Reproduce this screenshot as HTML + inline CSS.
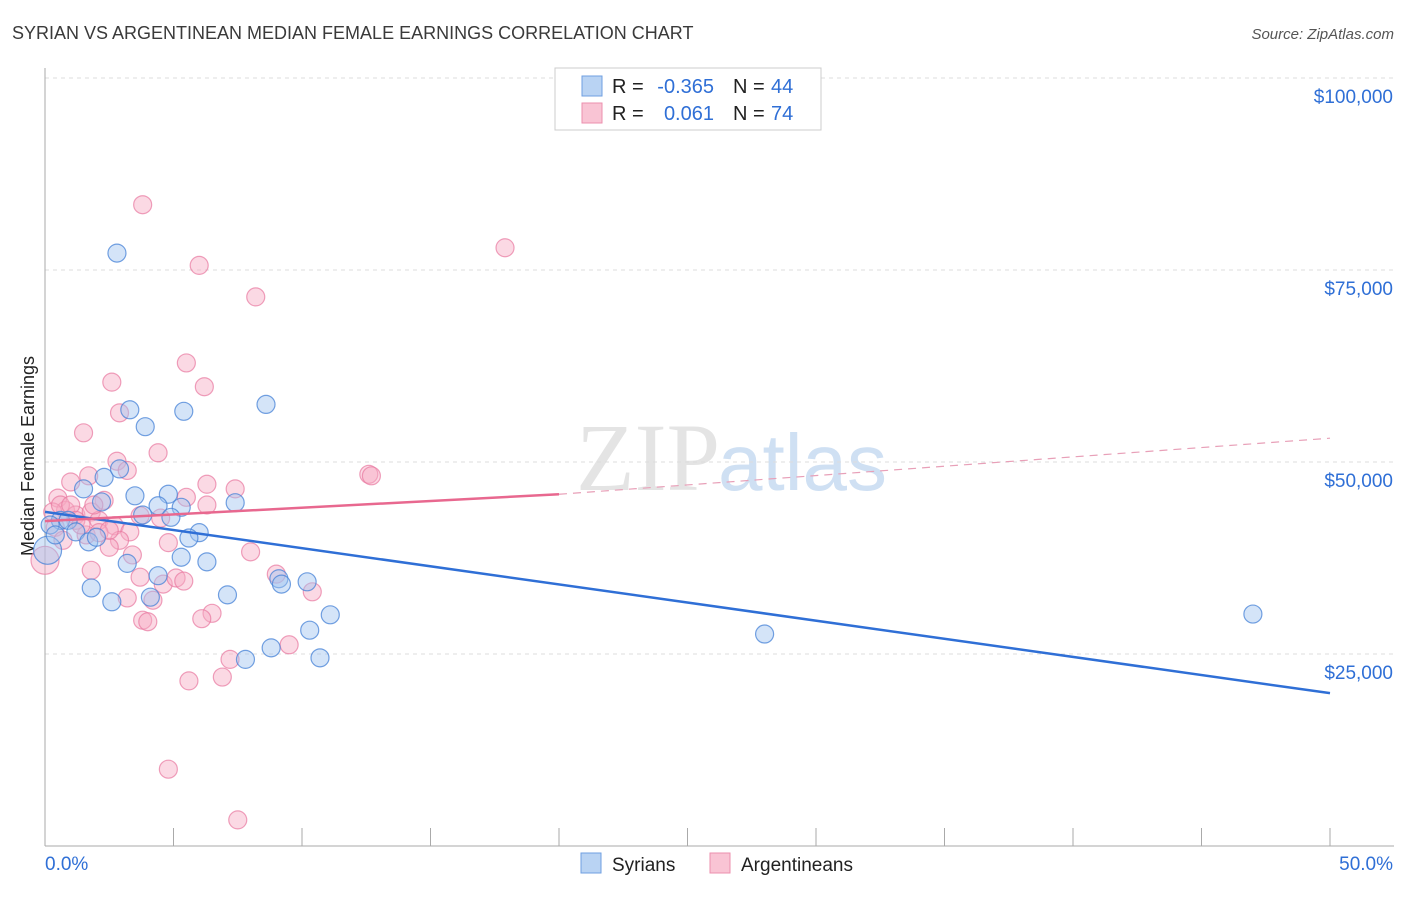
<!DOCTYPE html>
<html><head><meta charset="utf-8"><style>
body{margin:0;background:#fff;font-family:"Liberation Sans",sans-serif}
</style></head><body>
<svg id="c" width="1406" height="892" xmlns="http://www.w3.org/2000/svg">
<text x="12" y="39" font-size="18" fill="#3a3a3a">SYRIAN VS ARGENTINEAN MEDIAN FEMALE EARNINGS CORRELATION CHART</text>
<text x="1394" y="39" font-size="15" fill="#555" font-style="italic" text-anchor="end">Source: ZipAtlas.com</text>
<text x="720" y="490" font-size="96" fill="#e4e4e4" font-family="Liberation Serif" text-anchor="end">ZIP</text>
<text x="718" y="490" font-size="80" fill="#cfe0f3">atlas</text>
<text transform="translate(34,456) rotate(-90)" font-size="18" fill="#222" text-anchor="middle">Median Female Earnings</text>
<g id="grid"></g><g id="pts"></g><g id="lines"></g>
<g>
<rect x="555" y="68" width="266" height="62" fill="#fff" stroke="#ccc"/>
<rect x="582" y="76" width="20" height="20" fill="#b9d3f3" stroke="#6f9fe0"/>
<rect x="582" y="103" width="20" height="20" fill="#f9c4d4" stroke="#ec8fae"/>
<text x="612" y="93" font-size="20" fill="#222">R =</text>
<text x="714" y="93" font-size="20" fill="#2f6fd6" text-anchor="end">-0.365</text>
<text x="733" y="93" font-size="20" fill="#222">N =</text>
<text x="771" y="93" font-size="20" fill="#2f6fd6">44</text>
<text x="612" y="120" font-size="20" fill="#222">R =</text>
<text x="714" y="120" font-size="20" fill="#2f6fd6" text-anchor="end">0.061</text>
<text x="733" y="120" font-size="20" fill="#222">N =</text>
<text x="771" y="120" font-size="20" fill="#2f6fd6">74</text>
</g>
<g>
<rect x="581" y="853" width="20" height="20" fill="#b9d3f3" stroke="#6f9fe0"/>
<text x="612" y="871" font-size="19" fill="#222">Syrians</text>
<rect x="710" y="853" width="20" height="20" fill="#f9c4d4" stroke="#ec8fae"/>
<text x="741" y="871" font-size="19" fill="#222">Argentineans</text>
</g>
</svg>
<script>
const xTicks=[0,5,10,15,20,25,30,35,40,45,50];
const yTicks=[25000,50000,75000,100000];
const yLabels=["$25,000","$50,000","$75,000","$100,000"];
const syrX=[2.8,3.3,3.9,5.4,8.6,2.3,2.9,1.5,3.5,4.8,5.3,7.4,2.2,4.4,3.8,0.6,0.2,0.9,1.2,1.7,2.0,6.0,5.6,5.3,6.3,3.2,4.4,1.8,2.6,4.1,7.1,9.1,9.2,10.2,11.1,10.3,8.8,7.8,10.7,28.0,47.0,0.1,0.4,4.9];
const syrY=[77200,56800,54600,56600,57500,48000,49100,46500,45600,45800,44100,44700,44800,44300,43100,42400,41800,42400,40900,39600,40200,40800,40100,37600,37000,36800,35200,33600,31800,32400,32700,34800,34100,34400,30100,28100,25800,24300,24500,27600,30200,38500,40500,42800];
const argX=[3.8,17.9,6.0,8.2,5.5,2.6,6.2,2.9,1.5,4.4,2.8,3.2,12.6,12.7,1.7,1.0,6.3,7.4,5.5,2.3,0.5,6.3,0.8,0.3,1.2,1.8,4.5,2.1,2.7,0.4,3.3,1.6,2.1,2.9,2.5,4.8,3.4,8.0,1.8,3.7,4.6,5.1,5.4,9.0,3.2,4.2,6.5,6.1,3.8,4.0,10.4,9.5,7.2,6.9,5.6,4.8,7.5,0.0,0.6,1.0,1.2,0.7,1.4,2.5,1.9,3.7];
const argY=[83500,77900,75600,71500,62900,60400,59800,56400,53800,51200,50100,48900,48400,48200,48200,47400,47100,46500,45400,45000,45300,44400,43700,43500,43100,43500,42700,42400,41700,41500,40900,40500,40800,39800,38900,39500,37900,38300,35900,35000,34100,34900,34500,35400,32300,32000,30300,29600,29400,29200,33100,26200,24300,22000,21500,10000,3400,37200,44400,44400,42400,39800,41800,41100,44400,43000];
const syrTrend=[[0,43500],[50,19900]];
const argTrend=[[0,42300],[20,45800],[50,53100]];
const X=v=>45+v/50*1285, Y=v=>846-v/25000*192;
const NS="http://www.w3.org/2000/svg";
function mk(p,t,a){const e=document.createElementNS(NS,t);for(const k in a)e.setAttribute(k,a[k]);p.appendChild(e);return e;}
const g=document.getElementById('grid');
yTicks.forEach((v,i)=>{
 const l=mk(g,'line',{x1:45,x2:1394,y1:Y(v),y2:Y(v),stroke:'#ddd','stroke-dasharray':'4,4'});
 
 
 const t=mk(g,'text',{x:1393,y:Y(v)+25,'font-size':19,fill:'#2f6fd6','text-anchor':'end'});t.textContent=yLabels[i];
 
 
});
mk(g,'line',{x1:45,x2:45,y1:68,y2:846,stroke:'#aaa'});
mk(g,'line',{x1:45,x2:1394,y1:846,y2:846,stroke:'#aaa'});
xTicks.forEach(v=>{const l=mk(g,'line',{x1:X(v),x2:X(v),y1:828,y2:846,stroke:'#aaa'});
 
 });
const t0=mk(g,'text',{x:45,y:870,'font-size':19,fill:'#2f6fd6'});t0.textContent=xTicks[0].toFixed(1)+'%';


const t1=mk(g,'text',{x:1393,y:870,'font-size':19,fill:'#2f6fd6','text-anchor':'end'});t1.textContent=xTicks[10].toFixed(1)+'%';


const p=document.getElementById('pts');
argX.forEach((v,i)=>{const c=mk(p,'circle',{cx:X(v),cy:Y(argY[i]),r:i==57?14:9,fill:'rgba(246,170,195,0.45)',stroke:'rgba(232,120,160,0.7)','stroke-width':1.2});
 
 });
syrX.forEach((v,i)=>{const c=mk(p,'circle',{cx:X(v),cy:Y(syrY[i]),r:i==41?14:9,fill:'rgba(160,195,240,0.45)',stroke:'rgba(70,130,215,0.75)','stroke-width':1.2});
 
 });
const L=document.getElementById('lines');
const b=mk(L,'line',{x1:X(syrTrend[0][0]),y1:Y(syrTrend[0][1]),x2:X(syrTrend[1][0]),y2:Y(syrTrend[1][1]),stroke:'#2f6fd6','stroke-width':2.5});


const a1=mk(L,'line',{x1:X(argTrend[0][0]),y1:Y(argTrend[0][1]),x2:X(argTrend[1][0]),y2:Y(argTrend[1][1]),stroke:'#e8688f','stroke-width':2.5});


const a2=mk(L,'line',{x1:X(argTrend[1][0]),y1:Y(argTrend[1][1]),x2:X(argTrend[2][0]),y2:Y(argTrend[2][1]),stroke:'#e8a0b8','stroke-width':1.2,'stroke-dasharray':'8,6'});


</script>
</body></html>
